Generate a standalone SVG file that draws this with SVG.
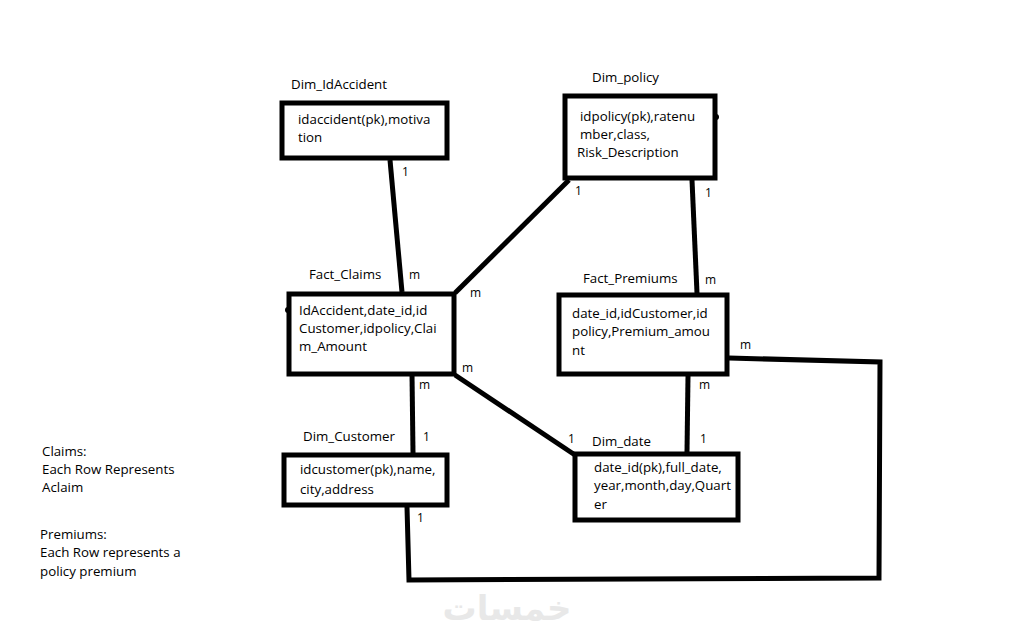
<svg xmlns="http://www.w3.org/2000/svg" width="1014" height="636" viewBox="0 0 1014 636">
<style>
text { font-family: "Open Sans", "Liberation Sans", sans-serif; font-size: 13.3px; fill: #000; }
.box { fill: #fff; stroke: #000; stroke-width: 5; }
.ln { fill: none; stroke: #000; stroke-width: 5; stroke-linejoin: miter; }
.card { font-size: 12px; }
</style>
<rect width="1014" height="636" fill="#fff"/>
<g id="connectors">
  <line class="ln" x1="390" y1="160" x2="402" y2="292"/>
  <line class="ln" x1="569" y1="180" x2="455" y2="293"/>
  <line class="ln" x1="692" y1="180" x2="697" y2="293"/>
  <line class="ln" x1="412" y1="374" x2="413" y2="453"/>
  <line class="ln" x1="455" y1="375" x2="575" y2="455"/>
  <line class="ln" x1="688" y1="376" x2="687" y2="452"/>
  <polyline class="ln" points="729,358 880,362 879,578 409,580 407,507"/>
  <text class="card" x="402" y="176">1</text>
  <text class="card" x="409" y="279">m</text>
  <text class="card" x="575" y="195">1</text>
  <text class="card" x="470" y="297">m</text>
  <text class="card" x="705" y="197">1</text>
  <text class="card" x="705" y="284">m</text>
  <text class="card" x="419" y="389">m</text>
  <text class="card" x="423" y="441">1</text>
  <text class="card" x="462" y="372">m</text>
  <text class="card" x="568" y="443">1</text>
  <text class="card" x="699" y="389">m</text>
  <text class="card" x="700" y="443">1</text>
  <text class="card" x="740" y="349">m</text>
  <text class="card" x="417" y="522">1</text>
</g>
<g id="dim_idaccident">
  <text x="291" y="89">Dim_IdAccident</text>
  <rect class="box" x="282" y="103" width="165" height="55"/>
  <text x="298" y="124">idaccident(pk),motiva</text>
  <text x="298" y="142">tion</text>
</g>
<g id="dim_policy">
  <text x="592" y="82">Dim_policy</text>
  <rect class="box" x="565" y="96" width="150" height="82"/>
  <circle cx="716" cy="117" r="3" fill="#000"/>
  <text x="580" y="121">idpolicy(pk),ratenu</text>
  <text x="580" y="139">mber,class,</text>
  <text x="577" y="157">Risk_Description</text>
</g>
<g id="fact_claims">
  <text x="309" y="279">Fact_Claims</text>
  <rect class="box" x="289" y="294" width="165" height="80"/>
  <circle cx="288" cy="310" r="3" fill="#000"/>
  <text x="299" y="315">IdAccident,date_id,id</text>
  <text x="299" y="333">Customer,idpolicy,Clai</text>
  <text x="299" y="351">m_Amount</text>
</g>
<g id="fact_premiums">
  <text x="583" y="283">Fact_Premiums</text>
  <rect class="box" x="559" y="295" width="168" height="79"/>
  <text x="572" y="318">date_id,idCustomer,id</text>
  <text x="572" y="336">policy,Premium_amou</text>
  <text x="572" y="355">nt</text>
</g>
<g id="dim_customer">
  <text x="303" y="441">Dim_Customer</text>
  <rect class="box" x="284" y="455" width="163" height="50"/>
  <text x="300" y="474">idcustomer(pk),name,</text>
  <text x="300" y="494">city,address</text>
</g>
<g id="dim_date">
  <text x="592" y="446">Dim_date</text>
  <rect class="box" x="575" y="454" width="163" height="66"/>
  <text x="594" y="472">date_id(pk),full_date,</text>
  <text x="594" y="490">year,month,day,Quart</text>
  <text x="594" y="509">er</text>
</g>
<g id="notes">
  <text x="42" y="456">Claims:</text>
  <text x="42" y="474">Each Row Represents</text>
  <text x="42" y="492">Aclaim</text>
  <text x="40" y="539">Premiums:</text>
  <text x="40" y="557">Each Row represents a</text>
  <text x="40" y="576">policy premium</text>
</g>
<text x="507" y="620" text-anchor="middle" style="font-family: 'DejaVu Sans', sans-serif; font-size: 34px; font-weight: bold; fill: #e8e8e8;">خمسات</text>
</svg>
